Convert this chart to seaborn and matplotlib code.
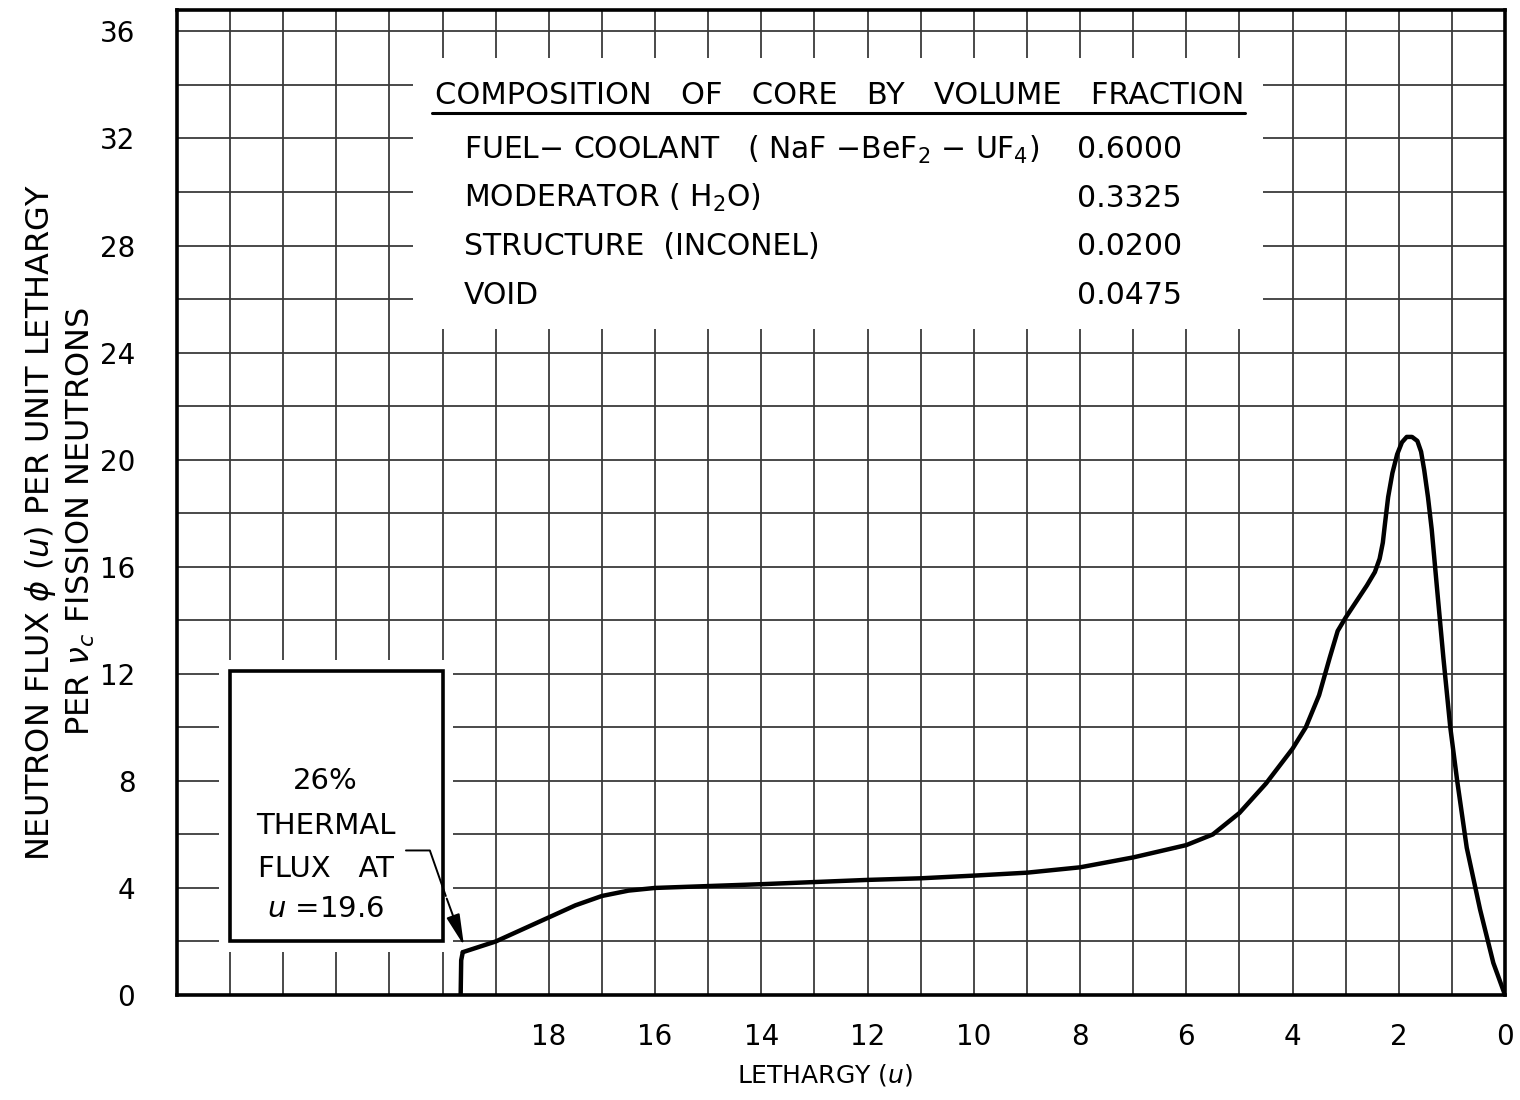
import numpy as np
import pandas as pd
import matplotlib
matplotlib.use("Agg")
import matplotlib.pyplot as plt
import matplotlib.patches as mpatches
import seaborn as sns

# ---------------- data ----------------
lethargy = [19.62, 19.0, 18.5, 18.0, 17.5, 17.0, 16.5, 16.0, 15.0, 14.0, 13.0,
            12.0, 11.0, 10.0, 9.0, 8.0, 7.0, 6.0, 5.5, 5.0, 4.5, 4.0, 3.75,
            3.5, 3.3, 3.15, 3.0, 2.8, 2.6, 2.45, 2.36, 2.3, 2.26, 2.2, 2.12,
            2.03, 1.94, 1.85, 1.75, 1.65, 1.58, 1.52, 1.45, 1.38, 1.28, 1.16,
            1.03, 0.9, 0.72, 0.47, 0.22, 0.0]
flux = [1.6, 2.0, 2.45, 2.9, 3.35, 3.7, 3.9, 4.0, 4.07, 4.14, 4.22,
        4.3, 4.36, 4.46, 4.57, 4.77, 5.14, 5.6, 6.0, 6.8, 7.9, 9.2, 10.0,
        11.2, 12.6, 13.6, 14.1, 14.7, 15.3, 15.8, 16.3, 16.9, 17.6, 18.6, 19.5,
        20.2, 20.65, 20.85, 20.85, 20.7, 20.3, 19.6, 18.6, 17.4, 15.2, 12.6,
        10.0, 8.0, 5.5, 3.2, 1.2, 0.0]
spike_u = [19.66, 19.65, 19.62]
spike_flux = [0.0, 1.3, 1.6]

x_tick_vals = [18, 16, 14, 12, 10, 8, 6, 4, 2, 0]
x_tick_labels = ["18", "16", "14", "12", "10", "8", "6", "4", "2", "0"]
y_tick_vals = [0, 4, 8, 12, 16, 20, 24, 28, 32, 36]
y_tick_labels = ["0", "4", "8", "12", "16", "20", "24", "28", "32", "36"]

comp_names = [r"FUEL$-$ COOLANT   ( NaF $-$BeF$_2$ $-$ UF$_4$)",
              r"MODERATOR ( H$_2$O)",
              r"STRUCTURE  (INCONEL)",
              r"VOID"]
comp_values = ["0.6000", "0.3325", "0.0200", "0.0475"]

# ---------------- style ----------------
sns.set_theme(style="white")
plt.rcParams["font.family"] = ["DejaVu Sans"]
plt.rcParams["mathtext.fontset"] = "dejavusans"

fig = plt.figure(figsize=(15.2, 11), dpi=100)
ax = fig.add_axes([177 / 1520, 1 - 995 / 1100, 1328 / 1520, 985 / 1100])

df = pd.DataFrame({"u": lethargy, "phi": flux})
sns.lineplot(data=df, x="u", y="phi", sort=False, estimator=None,
             color="black", linewidth=3.2, ax=ax, zorder=4)
sdf = pd.DataFrame({"u": spike_u, "phi": spike_flux})
sns.lineplot(data=sdf, x="u", y="phi", sort=False, estimator=None,
             color="black", linewidth=3.2, ax=ax, zorder=4)

ax.set_xlim(25, 0)
ax.set_ylim(0, 36.8)

ax.set_xticks(x_tick_vals)
ax.set_xticklabels(x_tick_labels)
ax.set_xticks(np.arange(0, 26, 1), minor=True)
ax.set_yticks(y_tick_vals)
ax.set_yticklabels(y_tick_labels)
ax.set_yticks(np.arange(0, 37, 2), minor=True)
ax.tick_params(axis="both", which="both", length=0, labelsize=20, colors="black")
ax.tick_params(axis="x", pad=20)
ax.tick_params(axis="y", pad=30)

ax.set_axisbelow(True)
ax.grid(True, which="both", color="#3a3a3a", linewidth=1.3)
for s in ax.spines.values():
    s.set_color("black")
    s.set_linewidth(2.6)
ax.set_xlabel("")
ax.set_ylabel("")

# white areas that interrupt the grid
ax.add_patch(mpatches.Rectangle((4.55, 24.9), 16.0, 10.1, facecolor="white",
                                edgecolor="none", zorder=1))
ax.add_patch(mpatches.Rectangle((19.8, 1.6), 4.4, 10.9, facecolor="white",
                                edgecolor="none", zorder=1))
# thermal box
ax.add_patch(mpatches.Rectangle((20.0, 2.0), 4.0, 10.1, facecolor="none",
                                edgecolor="black", linewidth=2.6, zorder=3))

# composition table
ax.text(20.15, 33.62, "COMPOSITION   OF   CORE   BY   VOLUME   FRACTION",
        fontsize=22, ha="left", va="center", color="black", zorder=5)
ax.plot([20.2, 4.9], [32.95, 32.95], color="black", linewidth=2.2, zorder=5)
row_y = [31.57, 29.77, 27.98, 26.15]
for name, val, yy in zip(comp_names, comp_values, row_y):
    ax.text(19.6, yy, name, fontsize=21.5, ha="left", va="center",
            color="black", zorder=5)
    ax.text(8.05, yy, val, fontsize=21.5, ha="left", va="center",
            color="black", zorder=5)

# thermal annotation
ax.text(22.2, 8.0, "26%", fontsize=21, ha="center", va="center", color="black", zorder=5)
ax.text(22.2, 6.3, "THERMAL", fontsize=21, ha="center", va="center", color="black", zorder=5)
ax.text(22.2, 4.7, "FLUX   AT", fontsize=21, ha="center", va="center", color="black", zorder=5)
ax.text(22.2, 3.2, r"$u$ =19.6", fontsize=21, ha="center", va="center", color="black", zorder=5)
ax.plot([20.69, 20.24, 19.94], [5.4, 5.4, 3.7], color="black", linewidth=1.4, zorder=5)
ax.annotate("", xy=(19.58, 1.75), xytext=(19.94, 3.7),
            arrowprops=dict(arrowstyle="-|>,head_length=1.6,head_width=0.35",
                            color="black", linewidth=1.4),
            zorder=5)

# axis labels
fig.text(60 / 1520, 1 - 522 / 1100,
         "NEUTRON FLUX $\\phi$ ($u$) PER UNIT LETHARGY\nPER $\\nu_c$ FISSION NEUTRONS",
         rotation=90, ha="center", va="center", fontsize=23, color="black",
         multialignment="center", linespacing=1.25)
fig.text(825 / 1520, 1 - 1075 / 1100, "LETHARGY ($u$)", ha="center", va="center",
         fontsize=18, color="black")

fig.savefig("out.png", dpi=100)
